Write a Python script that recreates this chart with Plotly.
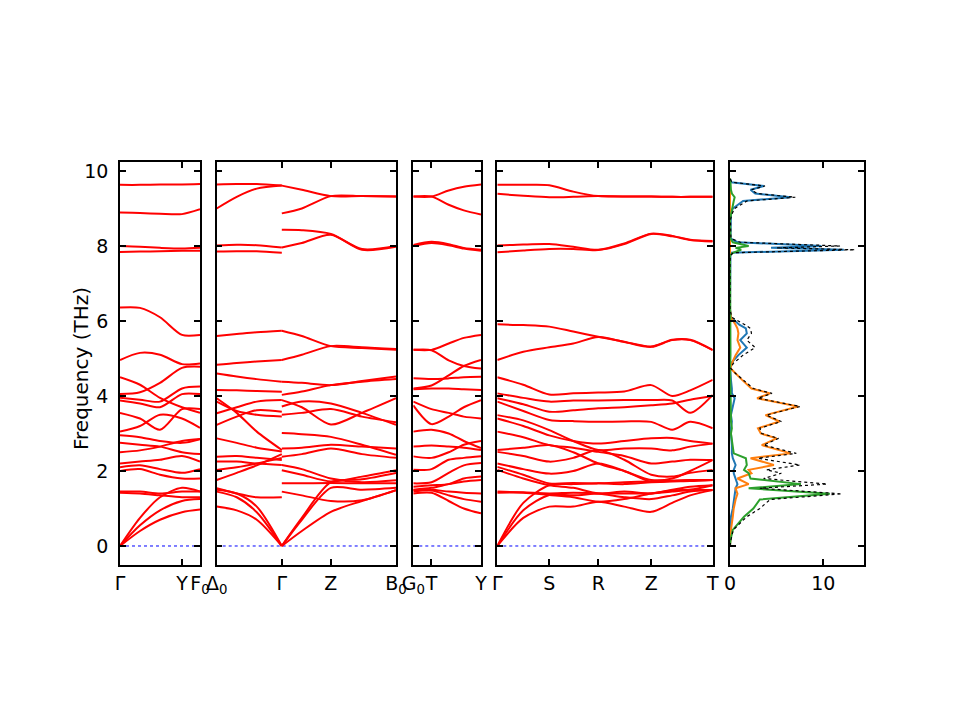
import plotly.graph_objects as go

# ---- band structure data (THz) ----
# panel 1: Gamma - Y - F0
p1_k = [0.0, 0.2, 0.4, 0.62, 0.80]
p1_ticks = [0.0, 0.62, 0.80]
p1_labels = ["Γ", "Y", "F<sub>0</sub>"]
p1_bands = [
    [9.63, 9.63, 9.64, 9.64, 9.65],
    [8.89, 8.88, 8.86, 8.85, 8.98],
    [8.00, 7.98, 7.95, 7.93, 7.95],
    [7.84, 7.85, 7.86, 7.87, 7.87],
    [6.36, 6.35, 6.10, 5.63, 5.63],
    [4.96, 5.15, 5.10, 4.85, 4.87],
    [4.50, 4.30, 3.95, 3.70, 3.55],
    [4.05, 4.10, 4.35, 4.75, 4.78],
    [3.95, 3.90, 3.85, 4.20, 4.25],
    [3.88, 3.80, 3.70, 4.05, 4.05],
    [3.55, 3.40, 3.10, 3.65, 3.65],
    [3.05, 3.20, 3.50, 3.40, 3.15],
    [2.95, 2.90, 2.80, 2.75, 2.85],
    [2.75, 2.70, 2.65, 2.50, 2.45],
    [2.50, 2.55, 2.65, 2.80, 2.85],
    [2.20, 2.25, 2.30, 2.40, 2.25],
    [2.10, 2.15, 2.05, 1.95, 2.05],
    [2.00, 2.05, 1.90, 1.80, 1.80],
    [1.45, 1.45, 1.40, 1.45, 1.45],
    [1.42, 1.40, 1.35, 1.30, 1.30],
    [0.00, 0.75, 1.30, 1.55, 1.45],
    [0.00, 0.55, 0.95, 1.20, 1.25],
    [0.00, 0.40, 0.70, 0.90, 0.97],
]

# panel 2: Delta0 - Gamma | Gamma - Z - B0
p2_ticks = [0.0, 0.65, 1.14, 1.79]
p2_labels = ["Δ<sub>0</sub>", "Γ", "Z", "B<sub>0</sub>"]
p2a_k = [0.0, 0.2, 0.4, 0.65]
p2a_bands = [
    [9.64, 9.65, 9.65, 9.61],
    [9.00, 9.31, 9.53, 9.61],
    [8.01, 8.03, 8.02, 7.96],
    [7.85, 7.86, 7.86, 7.82],
    [5.60, 5.65, 5.70, 5.74],
    [4.83, 4.88, 4.92, 4.96],
    [4.60, 4.52, 4.45, 4.38],
    [4.16, 4.15, 4.13, 4.11],
    [3.94, 3.55, 3.05, 2.56],
    [3.54, 3.70, 3.85, 3.89],
    [3.23, 3.45, 3.62, 3.58],
    [3.85, 3.60, 3.50, 3.45],
    [2.87, 2.75, 2.62, 2.52],
    [2.38, 2.40, 2.35, 2.29],
    [2.25, 2.25, 2.20, 2.16],
    [2.03, 2.10, 2.20, 2.35],
    [1.76, 1.95, 2.15, 2.45],
    [1.54, 1.40, 1.30, 1.30],
    [1.50, 1.40, 1.05, 0.00],
    [1.45, 1.30, 0.90, 0.00],
    [1.05, 0.95, 0.70, 0.00],
]
p2b_k = [0.65, 0.85, 1.14, 1.45, 1.79]
p2b_bands = [
    [9.61, 9.50, 9.33, 9.33, 9.32],
    [8.87, 9.00, 9.33, 9.33, 9.32],
    [8.43, 8.42, 8.32, 7.92, 8.00],
    [7.96, 8.08, 8.30, 7.90, 7.98],
    [5.74, 5.60, 5.33, 5.28, 5.23],
    [4.96, 5.10, 5.33, 5.30, 5.25],
    [4.38, 4.35, 4.29, 4.40, 4.52],
    [4.03, 4.12, 4.29, 4.38, 4.45],
    [3.89, 3.70, 3.24, 3.55, 3.94],
    [3.72, 3.85, 3.80, 3.55, 3.23],
    [3.50, 3.55, 3.65, 3.45, 3.30],
    [3.01, 2.98, 2.91, 2.70, 2.43],
    [2.60, 2.62, 2.70, 2.65, 2.60],
    [2.38, 2.45, 2.60, 2.45, 2.35],
    [2.02, 1.90, 1.72, 1.85, 2.02],
    [2.16, 2.05, 1.80, 1.70, 1.75],
    [1.67, 1.67, 1.68, 1.67, 1.67],
    [1.45, 1.35, 1.20, 1.22, 1.49],
    [0.00, 0.75, 1.70, 1.78, 1.95],
    [0.00, 0.70, 1.55, 1.50, 1.55],
    [0.00, 0.40, 0.91, 1.20, 1.49],
]

# panel 3: G0 - T - Y
p3_k = [0.0, 0.18, 0.35, 0.5, 0.67]
p3_ticks = [0.0, 0.18, 0.67]
p3_labels = ["G<sub>0</sub>", "T", "Y"]
p3_bands = [
    [9.32, 9.32, 9.48, 9.58, 9.64],
    [9.32, 9.32, 9.10, 8.95, 8.84],
    [8.03, 8.11, 8.05, 7.95, 7.90],
    [8.00, 8.08, 8.02, 7.93, 7.87],
    [5.23, 5.23, 5.40, 5.55, 5.63],
    [5.23, 5.22, 4.95, 4.80, 4.73],
    [4.20, 4.28, 4.55, 4.80, 4.96],
    [4.47, 4.45, 4.47, 4.50, 4.51],
    [4.18, 4.20, 4.20, 4.18, 4.16],
    [3.75, 3.25, 3.45, 3.70, 3.89],
    [3.85, 3.65, 3.55, 3.45, 3.40],
    [3.05, 3.10, 3.00, 2.80, 2.61],
    [2.65, 2.68, 2.65, 2.62, 2.56],
    [2.39, 2.35, 2.50, 2.70, 2.80],
    [2.03, 2.05, 2.30, 2.35, 2.39],
    [1.67, 1.70, 1.95, 2.15, 2.21],
    [1.58, 1.62, 1.65, 1.80, 1.85],
    [1.50, 1.55, 1.65, 1.72, 1.76],
    [1.49, 1.50, 1.45, 1.42, 1.40],
    [1.45, 1.48, 1.35, 1.25, 1.18],
    [1.40, 1.42, 1.20, 1.00, 0.87],
]

# panel 4: Gamma - S - R - Z - T
p4_k = [0.0, 0.26, 0.52, 0.76, 1.01, 1.27, 1.54, 1.75, 1.93, 2.155]
p4_ticks = [0.0, 0.52, 1.01, 1.54, 2.155]
p4_labels = ["Γ", "S", "R", "Z", "T"]
p4_bands = [
    [9.63, 9.63, 9.62, 9.45, 9.33, 9.32, 9.32, 9.31, 9.31, 9.31],
    [9.39, 9.34, 9.30, 9.31, 9.33, 9.32, 9.32, 9.31, 9.31, 9.31],
    [8.01, 8.04, 8.05, 7.98, 7.90, 8.07, 8.33, 8.27, 8.17, 8.13],
    [7.83, 7.88, 7.92, 7.92, 7.89, 8.05, 8.32, 8.26, 8.16, 8.12],
    [5.91, 5.89, 5.85, 5.72, 5.58, 5.45, 5.32, 5.50, 5.50, 5.23],
    [4.96, 5.18, 5.30, 5.40, 5.57, 5.44, 5.31, 5.49, 5.49, 5.22],
    [4.50, 4.30, 4.04, 4.07, 4.09, 4.12, 4.29, 4.00, 4.15, 4.43],
    [4.07, 3.95, 3.85, 3.88, 3.88, 3.89, 3.89, 3.88, 3.55, 4.03],
    [3.94, 3.78, 3.58, 3.62, 3.67, 3.70, 3.75, 3.80, 3.90, 4.00],
    [3.85, 3.60, 3.36, 3.33, 3.31, 3.32, 3.31, 3.10, 3.31, 3.14],
    [3.49, 3.35, 3.09, 2.80, 2.56, 2.60, 2.60, 2.55, 2.65, 2.73],
    [3.40, 3.20, 2.95, 2.80, 2.73, 2.80, 2.87, 2.88, 2.80, 2.73],
    [3.05, 2.90, 2.69, 2.62, 2.51, 2.40, 2.20, 2.25, 2.30, 2.29],
    [2.56, 2.62, 2.69, 2.50, 2.20, 2.00, 1.76, 1.80, 2.00, 2.29],
    [2.51, 2.40, 2.25, 2.35, 2.56, 2.30, 1.90, 1.85, 1.95, 2.03],
    [2.20, 2.05, 1.93, 2.00, 2.20, 2.00, 1.71, 1.74, 1.76, 1.76],
    [2.11, 1.90, 1.67, 1.68, 1.67, 1.70, 1.72, 1.74, 1.75, 1.76],
    [2.03, 1.80, 1.62, 1.55, 1.40, 1.45, 1.40, 1.50, 1.58, 1.62],
    [1.45, 1.43, 1.40, 1.42, 1.40, 1.30, 1.25, 1.35, 1.45, 1.49],
    [1.42, 1.42, 1.36, 1.30, 1.18, 1.25, 1.40, 1.48, 1.50, 1.49],
    [0.00, 1.15, 1.62, 1.65, 1.67, 1.65, 1.70, 1.72, 1.73, 1.76],
    [0.00, 0.95, 1.36, 1.35, 1.40, 1.40, 1.40, 1.45, 1.50, 1.62],
    [0.00, 0.75, 1.05, 1.05, 1.18, 1.05, 0.91, 1.15, 1.35, 1.49],
]

# ---- projected DOS ----
dos_freq = [0.0, 0.16, 0.43, 0.78, 1.00, 1.24, 1.39, 1.54, 1.65, 1.80, 1.94, 2.03, 2.16, 2.34,
            2.47, 2.69, 2.87, 3.00, 3.14, 3.32, 3.49, 3.72, 3.94, 4.07, 4.20, 4.43, 4.60, 4.74,
            4.87, 5.09, 5.29, 5.49, 5.67, 5.80, 5.90, 6.10, 6.30, 7.60, 7.75, 7.82, 7.90, 7.95,
            8.00, 8.10, 8.20, 8.70, 8.85, 9.00, 9.20, 9.30, 9.40, 9.50, 9.60, 9.70, 9.80]
dos_total = [0, 0.1, 0.35, 1.8, 3.2, 4.3, 12.0, 3.2, 10.4, 3.6, 5.5, 3.9, 7.5, 3.0,
             7.1, 3.6, 5.2, 3.4, 3.2, 5.5, 3.9, 7.5, 3.0, 4.5, 2.5, 1.4, 0.6, 0.07,
             0.35, 1.4, 2.7, 1.8, 2.3, 2.2, 1.6, 0.2, 0, 0, 0.05, 0.35, 13.4, 5.0,
             11.8, 1.1, 0.1, 0.05, 0.2, 0.5, 1.8, 7.0, 2.9, 2.3, 3.75, 0.2, 0]
dos_blue = [0, 0.02, 0.05, 0.1, 0.3, 0.4, 0.5, 0.6, 0.8, 0.6, 0.4, 0.4, 0.6, 0.3,
            0.2, 0.2, 0.1, 0.1, 0.1, 0.2, 0.1, 0.3, 0.5, 0.2, 0.2, 0.1, 0.05, 0.02,
            0.1, 0.9, 1.8, 1.1, 1.8, 1.7, 1.0, 0.1, 0, 0, 0.05, 0.05, 12.2, 4.4,
            9.8, 0.8, 0.05, 0.05, 0.1, 0.3, 1.4, 6.5, 2.7, 2.2, 3.65, 0.15, 0]
dos_orange = [0, 0.02, 0.1, 0.3, 0.4, 0.6, 0.8, 0.6, 2.0, 0.8, 2.3, 2.0, 4.7, 2.2,
              6.5, 3.4, 5.0, 3.3, 3.0, 5.3, 3.8, 7.3, 2.9, 4.3, 2.3, 1.3, 0.55, 0.05,
              0.2, 0.6, 1.1, 0.8, 0.9, 0.8, 0.6, 0.1, 0, 0, 0, 0, 0, 0,
              0, 0, 0, 0, 0, 0, 0, 0, 0, 0, 0, 0, 0]
dos_green = [0, 0.05, 0.3, 1.5, 2.5, 3.2, 10.7, 2.0, 7.6, 2.2, 2.0, 1.5, 1.8, 1.7,
             0.4, 0.3, 0.2, 0.1, 0.2, 0.1, 0.1, 0.1, 0.05, 0.1, 0.05, 0.05, 0.02, 0.01,
             0.05, 0.05, 0.05, 0.05, 0.05, 0.05, 0.05, 0, 0, 0, 0, 0.3, 1.2, 0.6,
             2.0, 0.3, 0.05, 0, 0.1, 0.2, 0.4, 0.5, 0.2, 0.1, 0.1, 0.05, 0]

yticks = [0, 2, 4, 6, 8, 10]
dos_ticks = [0, 10]

fig = go.Figure()

panels = [
    ("x", "y", [(p1_k, p1_bands)]),
    ("x2", "y2", [(p2a_k, p2a_bands), (p2b_k, p2b_bands)]),
    ("x3", "y3", [(p3_k, p3_bands)]),
    ("x4", "y4", [(p4_k, p4_bands)]),
]
for xa, ya, segments in panels:
    kmin = segments[0][0][0]
    kmax = segments[-1][0][-1]
    fig.add_trace(go.Scatter(x=[kmin, kmax], y=[0, 0], mode="lines",
                             line=dict(color="blue", width=1, dash="dot"),
                             xaxis=xa, yaxis=ya, showlegend=False, hoverinfo="skip"))
    for k, bands in segments:
        for b in bands:
            fig.add_trace(go.Scatter(x=k, y=b, mode="lines",
                                     line=dict(color="red", width=2, shape="spline", smoothing=0.8),
                                     xaxis=xa, yaxis=ya, showlegend=False))

for vals, col, dash, w in [(dos_blue, "#1f77b4", "solid", 2), (dos_orange, "#ff7f0e", "solid", 2),
                           (dos_green, "#2ca02c", "solid", 2), (dos_total, "black", "dot", 1.2)]:
    fig.add_trace(go.Scatter(x=vals, y=dos_freq, mode="lines",
                             line=dict(color=col, width=w, dash=dash),
                             xaxis="x5", yaxis="y5", showlegend=False))


# the page puts the figure 8 px in from the top-left corner
def px(x):
    return (x - 8) / 960


def py(y):
    return 1 - (y - 8) / 720


frame = dict(showline=True, linecolor="black", linewidth=1.5, mirror="ticks",
             ticks="inside", ticklen=6, tickwidth=1.5, tickcolor="black",
             showgrid=False, zeroline=False, automargin=False)
xframe = dict(frame, tickangle=0, ticklabelstandoff=0)
ydom = [py(565), py(162)]
yr = [-0.507, 10.24]

layout = dict(
    width=960, height=720, plot_bgcolor="white", paper_bgcolor="white",
    margin=dict(l=0, r=0, t=0, b=0, autoexpand=False),
    font=dict(family="DejaVu Sans", size=19, color="black"),
    xaxis=dict(xframe, domain=[px(120), px(200)], range=[p1_ticks[0], p1_ticks[-1]],
               tickvals=p1_ticks, ticktext=p1_labels, anchor="y"),
    xaxis2=dict(xframe, domain=[px(216.7), px(396)], range=[p2_ticks[0], p2_ticks[-1]],
                tickvals=p2_ticks, ticktext=p2_labels, anchor="y2"),
    xaxis3=dict(xframe, domain=[px(413.3), px(481)], range=[p3_ticks[0], p3_ticks[-1]],
                tickvals=p3_ticks, ticktext=p3_labels, anchor="y3"),
    xaxis4=dict(xframe, domain=[px(497.3), px(712.7)], range=[p4_ticks[0], p4_ticks[-1]],
                tickvals=p4_ticks, ticktext=p4_labels, anchor="y4"),
    xaxis5=dict(xframe, domain=[px(730), px(864)], range=[0, 14.36],
                tickvals=dos_ticks, anchor="y5"),
    yaxis=dict(frame, domain=ydom, range=yr, tickvals=yticks, anchor="x", ticklabelstandoff=6),
)
for i in range(2, 6):
    layout["yaxis%d" % i] = dict(frame, domain=ydom, range=yr, tickvals=yticks,
                                 showticklabels=False, anchor="x%d" % i)

fig.update_layout(**layout)
fig.add_annotation(text="Frequency (THz)", textangle=-90, x=px(67), y=py(369),
                   xref="paper", yref="paper", showarrow=False, font=dict(size=20))

fig.write_html("out.html")
